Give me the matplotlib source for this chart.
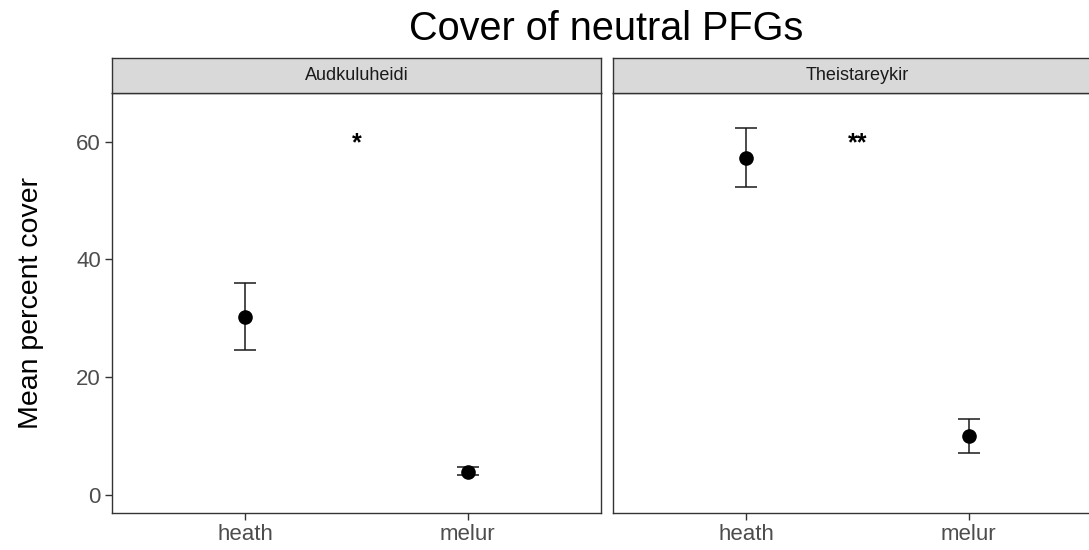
import matplotlib
matplotlib.use("Agg")
import matplotlib.pyplot as plt
import numpy as np

plt.rcParams['font.family'] = ['Liberation Sans', 'DejaVu Sans']

# dane
sites = ['Audkuluheidi', 'Theistareykir']
habitats = ['heath', 'melur']
mean_cover = {
    'Audkuluheidi': [30.3, 3.9],
    'Theistareykir': [57.3, 10.0],
}
err_low = {
    'Audkuluheidi': [24.6, 3.4],
    'Theistareykir': [52.4, 7.1],
}
err_high = {
    'Audkuluheidi': [36.0, 4.8],
    'Theistareykir': [62.4, 12.9],
}
signif = {'Audkuluheidi': '*', 'Theistareykir': '**'}
signif_y = 59.8
yticks = [0, 20, 40, 60]

W, H = 1089, 550
fig = plt.figure(figsize=(W / 100, H / 100), dpi=100)

panel_x = [112, 613]
panel_w = 489
panel_top, panel_bot = 93, 513
strip_top = 58

edge = '#333333'
x = np.arange(1, len(habitats) + 1)

for i, site in enumerate(sites):
    ax = fig.add_axes([panel_x[i] / W, (H - panel_bot) / H,
                       panel_w / W, (panel_bot - panel_top) / H])
    m = np.array(mean_cover[site])
    lo = m - np.array(err_low[site])
    hi = np.array(err_high[site]) - m
    ax.errorbar(x, m, yerr=[lo, hi], fmt='o', color='black', ecolor='#1a1a1a',
                markersize=9.5, elinewidth=1.1, capsize=8.2, capthick=1.1)
    ax.text(1.5, signif_y, signif[site], ha='center', va='center',
            fontsize=18, fontweight='bold', color='black')
    ax.set_xlim(0.4, 2.6)
    ax.set_ylim(-3.1, 68.3)
    ax.set_xticks(x, habitats)
    ax.set_yticks(yticks)
    for s in ax.spines.values():
        s.set_color(edge)
        s.set_linewidth(1.0)
    ax.tick_params(axis='both', colors=edge, labelcolor='#4d4d4d',
                   labelsize=16, length=5, width=1.0, pad=3)
    if i > 0:
        ax.tick_params(axis='y', left=False, labelleft=False)
    else:
        ax.set_ylabel('Mean percent cover', fontsize=20.5, color='black', labelpad=23)

    # pasek z nazwa panelu
    sa = fig.add_axes([panel_x[i] / W, (H - panel_top) / H,
                       panel_w / W, (panel_top - strip_top) / H])
    sa.set_facecolor('#d9d9d9')
    sa.set_xticks([])
    sa.set_yticks([])
    for s in sa.spines.values():
        s.set_color(edge)
        s.set_linewidth(1.0)
    sa.text(0.5, 0.5, site, ha='center', va='center', fontsize=13,
            color='#1a1a1a', transform=sa.transAxes)

fig.text(606 / W, 1 - 40 / H, 'Cover of neutral PFGs', ha='center',
         va='baseline', fontsize=28.5, color='black')

fig.savefig('out.png', dpi=100)
